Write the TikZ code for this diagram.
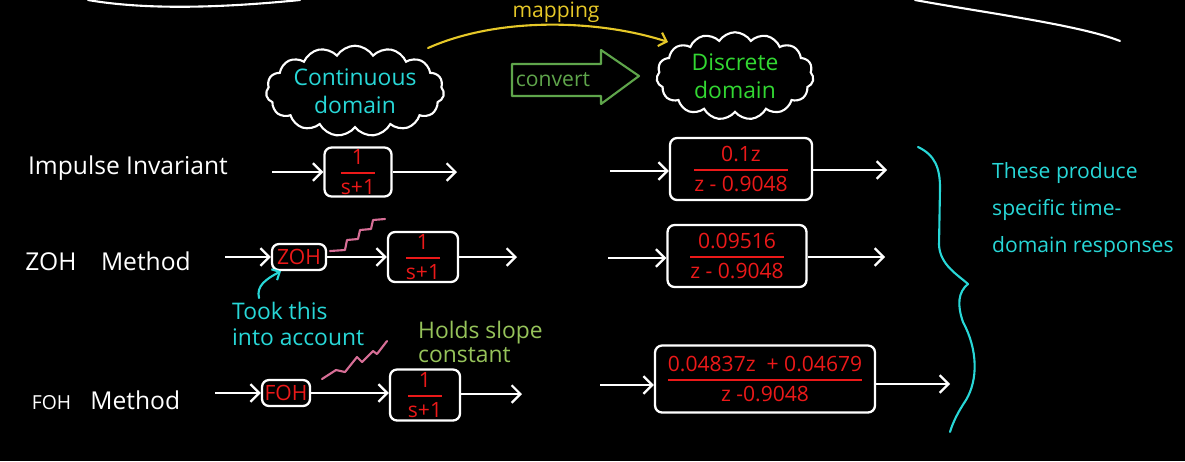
\documentclass[tikz,border=0pt]{standalone}
\usepackage{fontspec}
\usepackage{amsmath}
\setmainfont{Open Sans}
\usetikzlibrary{arrows.meta,shapes.symbols}
\definecolor{cy}{RGB}{40,215,215}
\definecolor{rd}{RGB}{235,25,25}
\definecolor{dgreen}{RGB}{50,215,50}
\definecolor{cgreen}{RGB}{95,165,75}
\definecolor{yl}{RGB}{230,200,40}
\definecolor{pk}{RGB}{215,110,150}
\definecolor{hg}{RGB}{150,195,90}
\newcommand\tfr[2]{$\genfrac{}{}{1pt}{0}{\text{#1}}{\text{#2}}$}
\begin{document}
\begin{tikzpicture}[x=0.02cm,y=-0.02cm,
  wire/.style={draw=white, line width=1.3pt, -{Straight Barb[length=5pt,width=10pt,line width=1.3pt]}},
  blk/.style={draw=white, line width=1.3pt, rounded corners=4pt, text=rd, font=\fontsize{12}{14}\selectfont, inner sep=1pt},
  lbl/.style={text=white, font=\fontsize{14}{16}\selectfont},
  note/.style={font=\fontsize{13}{15}\selectfont, align=left},
  cloudbox/.style={cloud, draw=white, line width=1.2pt, cloud puffs=15, cloud puff arc=115, aspect=2.4, inner sep=0pt, align=center, font=\fontsize{13}{16}\selectfont},
  handline/.style={line width=1.2pt, line cap=round, line join=round}]
\fill[black] (0,0) rectangle (1185,461);
\useasboundingbox (0,0) rectangle (1185,461);

% top edge strokes
\draw[white, handline] (88,0) .. controls (140,9) and (210,9) .. (300,0);
\draw[white, handline] (915,0) .. controls (980,12) and (1080,25) .. (1120,41);

% clouds
\node[cloudbox, text=cy, minimum width=3.4cm, minimum height=1.45cm] (c1) at (355,91) {Continuous\\domain};
\node[cloudbox, text=dgreen, minimum width=2.64cm, minimum height=1.75cm] (c2) at (735,76) {Discrete\\domain};

% mapping arrow
\coordinate (m0) at (428,48);
\coordinate (m1) at (668,42);
\draw[yl, handline, -{Straight Barb[length=4pt,width=8pt,line width=1.2pt]}] (m0) .. controls (500,16) and (600,20) .. (m1);
\node[text=yl, font=\fontsize{12}{14}\selectfont] (map) at (556,12) {mapping};

% convert hollow arrow
\draw[cgreen, handline] (512,64) -- (601,64) -- (601,50) -- (639,76) -- (601,104) -- (601,96) -- (512,96) -- cycle;
\node[text=cgreen, font=\fontsize{12}{14}\selectfont] (conv) at (553,80) {convert};

% Row 1
\node[lbl] (l1) at (128,168) {Impulse Invariant};
\node[blk, minimum width=1.34cm, minimum height=0.94cm] (b1) at (358,172) {\tfr{1}{s+1}};
\coordinate (i1) at (272,172);
\coordinate (o1) at (457,172);
\draw[wire] (i1) -- (i1 -| b1.west);
\draw[wire] (b1.east |- o1) -- (o1);

\node[blk, minimum width=2.84cm, minimum height=1.24cm] (r1) at (741,169) {\tfr{0.1z}{z - 0.9048}};
\coordinate (ri1) at (610,171);
\coordinate (ro1) at (887,170);
\draw[wire] (ri1) -- (ri1 -| r1.west);
\draw[wire] (r1.east |- ro1) -- (ro1);

% Row 2
\node[lbl] (l2) at (108,261) {ZOH\quad Method};
\node[blk, minimum width=1.08cm, minimum height=0.52cm] (zoh) at (299,257) {ZOH};
\node[blk, minimum width=1.4cm, minimum height=1.0cm] (b2) at (423,257) {\tfr{1}{s+1}};
\coordinate (i2) at (225,257);
\coordinate (o2) at (517,257);
\draw[wire] (i2) -- (zoh.west);
\draw[wire] (zoh.east) -- (b2.west);
\draw[wire] (b2.east) -- (o2);
\draw[pk, handline] (330,251) -- (345,250) -- (347,240) -- (358,239) -- (360,230) -- (371,229) -- (373,220) -- (385,219);

\node[blk, minimum width=2.78cm, minimum height=1.24cm] (r2) at (737,256) {\tfr{0.09516}{z - 0.9048}};
\coordinate (ri2) at (608,258);
\coordinate (ro2) at (885,257);
\draw[wire] (ri2) -- (ri2 -| r2.west);
\draw[wire] (r2.east |- ro2) -- (ro2);

% annotations
\coordinate (ta) at (259,298);
\draw[cy, handline, -{Straight Barb[length=3.5pt,width=7pt,line width=1.2pt]}] (ta) .. controls (256,286) and (266,279) .. (zoh.south west -| 281,0);
\node[note, text=cy, anchor=west] (took) at (226,324) {Took this\\into account};
\node[note, text=hg, anchor=west, font=\fontsize{13}{14}\selectfont] (holds) at (412,342) {Holds slope\\constant};
\draw[pk, handline] (322,379) -- (336,370) -- (345,372) -- (357,357) -- (362,362) -- (373,351) -- (377,354) -- (387,341);

% Row 3
\node[lbl] (l3) at (106,400) {\fontsize{11}{13}\selectfont FOH\quad\fontsize{14}{16}\selectfont Method};
\node[blk, minimum width=0.96cm, minimum height=0.52cm] (foh) at (286,393) {FOH};
\node[blk, minimum width=1.4cm, minimum height=1.02cm] (b3) at (425,395) {\tfr{1}{s+1}};
\coordinate (i3) at (215,393);
\coordinate (o3) at (522,394);
\draw[wire] (i3) -- (foh.west);
\draw[wire] (foh.east) -- (foh.east -| b3.west);
\draw[wire] (b3.east |- o3) -- (o3);

\node[blk, minimum width=4.4cm, minimum height=1.34cm] (r3) at (765,379) {\tfr{0.04837z\ \ + 0.04679}{z -0.9048}};
\coordinate (ri3) at (600,385);
\coordinate (ro3) at (950,384);
\draw[wire] (ri3) -- (ri3 -| r3.west);
\draw[wire] (r3.east |- ro3) -- (ro3);

% brace
\draw[cy, handline] (918,147) .. controls (935,155) and (940,168) .. (940,188) -- (939,245)
  .. controls (940,265) and (958,275) .. (968,284)
  .. controls (958,292) and (957,305) .. (963,322)
  .. controls (978,350) and (978,380) .. (966,400)
  .. controls (958,412) and (953,422) .. (950,432);

\node[note, text=cy, anchor=north west, font=\fontsize{12}{21}\selectfont] (prod) at (986,156) {These produce\\specific time-\\domain responses};
\end{tikzpicture}
\end{document}
